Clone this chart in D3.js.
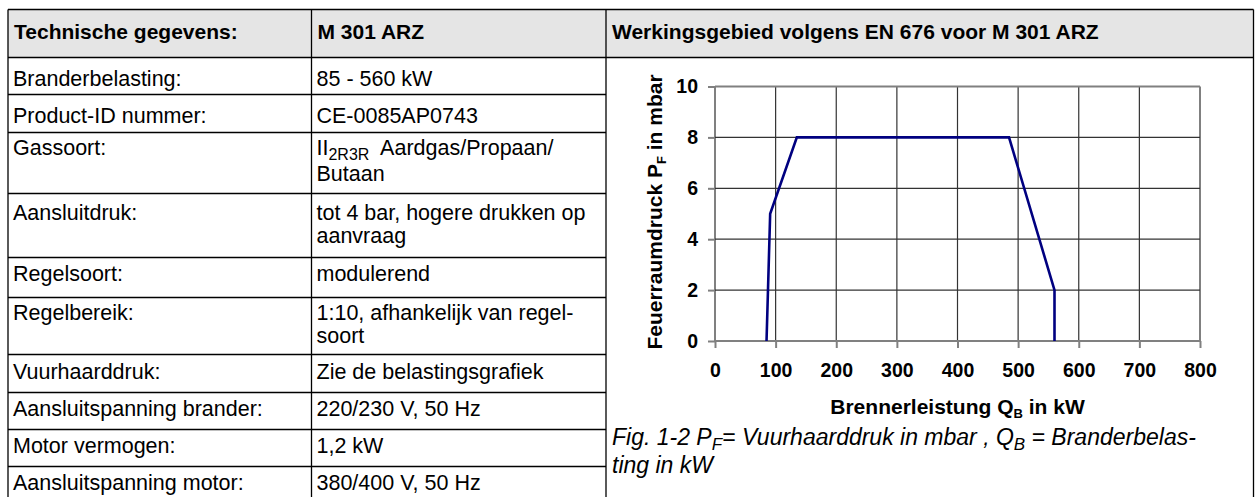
<!DOCTYPE html>
<html lang="nl">
<head>
<meta charset="UTF-8">
<title>M 301 ARZ - Technische gegevens</title>
<script src="https://d3js.org/d3.v7.min.js"></script>
<style>
    body, html {
        margin: 0;
        padding: 0;
        background: #fff;
    }
    svg {
        display: block;
        font-family: "Liberation Sans", Arial, sans-serif;
    }
</style>
</head>
<body>
<div id="page"></div>
<script>
// table content
const headers = ["Technische gegevens:", "M 301 ARZ", "Werkingsgebied volgens EN 676 voor M 301 ARZ"];
const specLabels = ["Branderbelasting:", "Product-ID nummer:", "Gassoort:", "Aansluitdruk:", "Regelsoort:",
    "Regelbereik:", "Vuurhaarddruk:", "Aansluitspanning brander:", "Motor vermogen:", "Aansluitspanning motor:"];
const specValues = [["85 - 560 kW"], ["CE-0085AP0743"], ["II|2R3R|  Aardgas/Propaan/", "Butaan"],
    ["tot 4 bar, hogere drukken op", "aanvraag"], ["modulerend"], ["1:10, afhankelijk van regel-", "soort"],
    ["Zie de belastingsgrafiek"], ["220/230 V, 50 Hz"], ["1,2 kW"], ["380/400 V, 50 Hz"]];

// chart data: burner load (kW) vs combustion chamber pressure (mbar)
const loadKW = [85, 91, 135, 485, 560, 560];
const pressureMbar = [0, 5, 8, 8, 2, 0];
const xTicks = [0, 100, 200, 300, 400, 500, 600, 700, 800];
const yTicks = [0, 2, 4, 6, 8, 10];

const W = 1259, H = 497;
const svg = d3.select("#page").append("svg")
    .attr("width", W)
    .attr("height", H);

// ---- table ----
const colX = [8, 311.5, 606, 1253.5];
const rowY = [9.5, 57.5, 94.5, 132.5, 193.5, 257.5, 297.5, 354.5, 392.5, 429.5, 466.5, 520];
const textMid = [78, 115, 147, 212, 273, 312, 371, 408, 445, 482];
const lineGap = 23;
const fs = 21.5;

svg.append("rect")
    .attr("x", colX[0]).attr("y", rowY[0])
    .attr("width", colX[3] - colX[0]).attr("height", rowY[1] - rowY[0])
    .attr("fill", "#e5e5e5");

const grid = svg.append("g").attr("stroke", "#000").attr("stroke-width", 1.3);
grid.append("line").attr("x1", colX[0]).attr("x2", colX[3]).attr("y1", rowY[0]).attr("y2", rowY[0]);
grid.append("line").attr("x1", colX[0]).attr("x2", colX[3]).attr("y1", rowY[1]).attr("y2", rowY[1]);
grid.selectAll(".rl").data(rowY.slice(2, 11)).enter().append("line")
    .attr("x1", colX[0]).attr("x2", colX[2])
    .attr("y1", d => d).attr("y2", d => d);
grid.selectAll(".cl").data(colX).enter().append("line")
    .attr("x1", d => d).attr("x2", d => d)
    .attr("y1", rowY[0]).attr("y2", H + 5);

svg.selectAll(".hdr").data(headers).enter().append("text")
    .attr("x", (d, i) => colX[i] + 6)
    .attr("y", 31.5 + 7.5)
    .attr("font-size", 21)
    .attr("font-weight", "bold")
    .text(d => d);

svg.selectAll(".lbl").data(specLabels).enter().append("text")
    .attr("x", colX[0] + 5)
    .attr("y", (d, i) => textMid[i] + 7.5)
    .attr("font-size", fs)
    .text(d => d);

specValues.forEach((lines, i) => {
    lines.forEach((ln, j) => {
        const t = svg.append("text")
            .attr("x", colX[1] + 5)
            .attr("y", textMid[i] + 7.5 + j * (i === 2 ? 26 : lineGap))
            .attr("font-size", fs);
        if (ln.includes("|")) {
            const parts = ln.split("|");
            t.append("tspan").text(parts[0]);
            t.append("tspan").attr("font-size", 16).attr("dy", 5).text(parts[1]);
            t.append("tspan").attr("dy", -5).attr("xml:space", "preserve").text(parts[2]);
        } else {
            t.text(ln);
        }
    });
});

// ---- chart ----
const x = d3.scaleLinear().domain([0, 800]).range([715, 1200]);
const y = d3.scaleLinear().domain([0, 10]).range([341, 86.5]);

const g = svg.append("g");

g.selectAll(".vg").data(xTicks).enter().append("line")
    .attr("x1", d => x(d)).attr("x2", d => x(d))
    .attr("y1", y(0)).attr("y2", y(10))
    .attr("stroke", (d, i) => (i === 0 || i === xTicks.length - 1) ? "#808080" : "#333")
    .attr("stroke-width", (d, i) => (i === 0 || i === xTicks.length - 1) ? 2 : 1.2);

g.selectAll(".hg").data(yTicks).enter().append("line")
    .attr("x1", x(0)).attr("x2", x(800))
    .attr("y1", d => y(d)).attr("y2", d => y(d))
    .attr("stroke", (d, i) => (i === 0 || i === yTicks.length - 1) ? "#808080" : "#333")
    .attr("stroke-width", (d, i) => (i === 0 || i === yTicks.length - 1) ? 2 : 1.2);

const xAxis = g.append("g")
    .attr("transform", `translate(0,${y(0)})`)
    .call(d3.axisBottom(x).tickValues(xTicks).tickSize(7).tickPadding(15).tickFormat(d3.format("d")));
const yAxis = g.append("g")
    .attr("transform", `translate(${x(0)},0)`)
    .call(d3.axisLeft(y).tickValues(yTicks).tickSize(7).tickPadding(10).tickFormat(d3.format("d")));

[xAxis, yAxis].forEach(a => {
    a.select(".domain").remove();
    a.selectAll(".tick line").attr("stroke", "#808080").attr("stroke-width", 2);
    a.selectAll(".tick text")
        .attr("fill", "#000")
        .attr("font-family", "\"Liberation Sans\", Arial, sans-serif")
        .attr("font-size", 19.5)
        .attr("font-weight", "bold");
});

const line = d3.line()
    .x((d, i) => x(loadKW[i]))
    .y(d => y(d));

g.append("path")
    .datum(pressureMbar)
    .attr("d", line)
    .attr("fill", "none")
    .attr("stroke", "#000080")
    .attr("stroke-width", 2.6)
    .attr("stroke-linejoin", "miter");

// axis titles
const yt = svg.append("text")
    .attr("transform", `translate(662,212) rotate(-90)`)
    .attr("text-anchor", "middle")
    .attr("font-size", 21)
    .attr("font-weight", "bold");
yt.append("tspan").text("Feuerraumdruck P");
yt.append("tspan").attr("font-size", 13).attr("dy", 4).text("F");
yt.append("tspan").attr("dy", -4).text(" in mbar");

const xt = svg.append("text")
    .attr("x", (x(0) + x(800)) / 2)
    .attr("y", 414)
    .attr("text-anchor", "middle")
    .attr("font-size", 21)
    .attr("font-weight", "bold");
xt.append("tspan").text("Brennerleistung Q");
xt.append("tspan").attr("font-size", 13).attr("dy", 4).text("B");
xt.append("tspan").attr("dy", -4).text(" in kW");

// caption
const cap = svg.append("text")
    .attr("x", 612)
    .attr("y", 445)
    .attr("font-size", 23)
    .attr("font-style", "italic");
cap.append("tspan").text("Fig. 1-2 P");
cap.append("tspan").attr("font-size", 17).attr("dy", 5).text("F");
cap.append("tspan").attr("dy", -5).text("= Vuurhaarddruk in mbar , Q");
cap.append("tspan").attr("font-size", 17).attr("dy", 5).text("B");
cap.append("tspan").attr("dy", -5).text(" = Branderbelas-");
svg.append("text")
    .attr("x", 612)
    .attr("y", 473)
    .attr("font-size", 23)
    .attr("font-style", "italic")
    .text("ting in kW");
</script>
</body>
</html>
